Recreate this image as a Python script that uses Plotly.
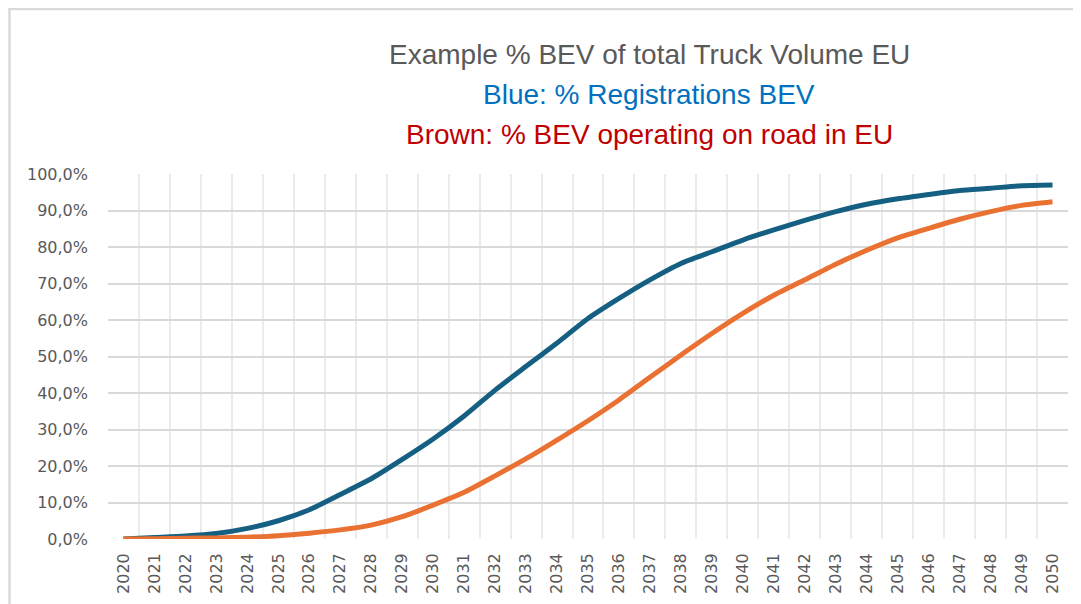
import plotly.graph_objects as go

years = [str(y) for y in range(2020, 2051)]
registrations_bev = [0.0, 0.4, 0.8, 1.5, 2.9, 5.0, 8.0, 12.2, 16.5, 21.8, 27.4, 33.7, 40.8, 47.3, 53.7,
                     60.4, 65.9, 71.0, 75.5, 78.7, 81.9, 84.7, 87.3, 89.7, 91.7, 93.2, 94.4, 95.5, 96.1, 96.8, 97.0]
on_road_bev = [0.0, 0.1, 0.2, 0.3, 0.5, 0.9, 1.6, 2.5, 3.8, 6.1, 9.3, 12.8, 17.3, 22.0, 27.1,
               32.4, 38.1, 44.3, 50.4, 56.3, 61.8, 66.8, 71.0, 75.3, 79.1, 82.5, 85.1, 87.6, 89.7, 91.4, 92.4]
y_ticks = [0, 10, 20, 30, 40, 50, 60, 70, 80, 90, 100]

title_lines = [
    ("Example % BEV of total Truck Volume EU", "#595959"),
    ("Blue: % Registrations BEV", "#0070C0"),
    ("Brown: % BEV operating on road in EU", "#C00000"),
]

# page has an 8px body margin; work in page coordinates and convert
OFF = 8
W, H = 1081 - OFF, 604 - OFF
PL, PR, PT, PB = 108, 1068, 174, 539  # plot area in page pixels
L, T = PL - OFF, PT - OFF
R = W - (PR - OFF)
B = H - (PB - OFF)
pw, ph = W - L - R, H - T - B


def px(x):
    return (x - PL) / pw


def py(y):
    return (PB - y) / ph


fig = go.Figure()
fig.add_trace(go.Scatter(x=years, y=[v / 100 for v in registrations_bev], mode="lines",
                         line=dict(color="#156082", width=5, shape="spline", smoothing=0.6),
                         name="Registrations BEV", showlegend=False))
fig.add_trace(go.Scatter(x=years, y=[v / 100 for v in on_road_bev], mode="lines",
                         line=dict(color="#E97132", width=5, shape="spline", smoothing=0.6),
                         name="On road BEV", showlegend=False))

fig.update_layout(
    width=W, height=H,
    margin=dict(l=L, r=R, t=T, b=B, autoexpand=False),
    paper_bgcolor="white", plot_bgcolor="white",
    separators=",.",
    font=dict(family="DejaVu Sans, sans-serif", color="#595959"),
)
fig.update_xaxes(type="category", tickson="boundaries", showgrid=True, gridcolor="#EBEBEB", gridwidth=1.5,
                 tickangle=-90, tickfont=dict(size=16, color="#595959", family="DejaVu Sans"),
                 ticks="", showline=False, zeroline=False, range=[-0.5, 30.5], ticklabelstandoff=10,
                 automargin=False)
fig.update_yaxes(range=[0, 1], tickvals=[v / 100 for v in y_ticks], tickformat=".1%",
                 showgrid=True, gridcolor="#D9D9D9", gridwidth=1.5, zeroline=False, showline=False,
                 tickfont=dict(size=16, color="#595959", family="DejaVu Sans"), ticks="",
                 ticklabelstandoff=19, automargin=False)

# outer chart border (top & left visible, rest cropped)
fig.add_shape(type="rect", xref="paper", yref="paper",
              x0=px(9.5), x1=px(1300), y0=py(700), y1=py(9),
              line=dict(color="#D9D9D9", width=2.5), layer="below")

centers = [54, 94, 134]
for (txt, col), cy in zip(title_lines, centers):
    fig.add_annotation(text=txt, xref="paper", yref="paper", x=px(649), y=py(cy),
                       xanchor="center", yanchor="middle", showarrow=False,
                       font=dict(family="Liberation Sans, Arial, sans-serif", size=28, color=col))

fig.write_html("out.html")
